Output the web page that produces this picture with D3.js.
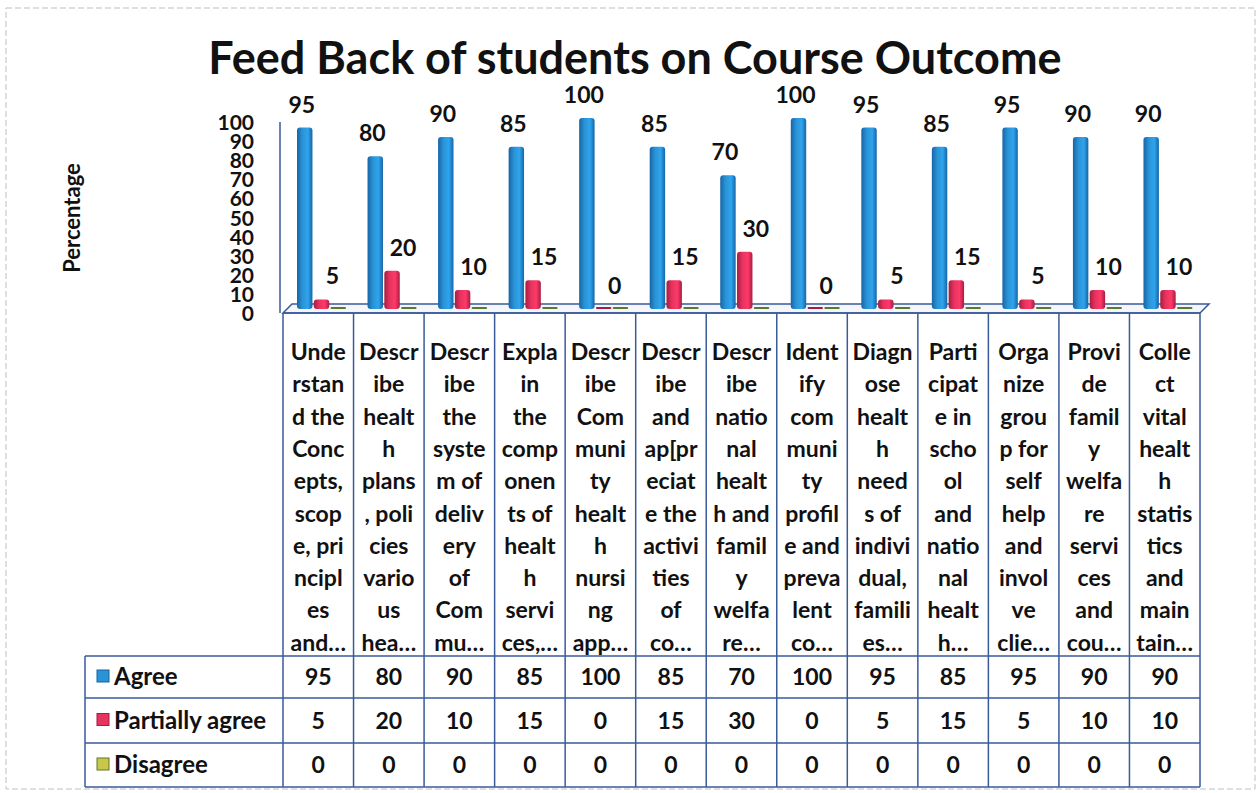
<!DOCTYPE html>
<html>
<head>
<meta charset="utf-8">
<script src="https://cdn.jsdelivr.net/npm/d3@7"></script>
<style>
	body { margin: 0; background: #fff; }
	svg { font-family: Lato, "Open Sans", sans-serif; font-weight: bold; }
</style>
</head>
<body>
<div id="chart"></div>
<script>
// category labels, already wrapped the way the data table shows them
const categoryLines = [
	["Unde", "rstan", "d the", "Conc", "epts,", "scop", "e, pri", "ncipl", "es", "and…"],
	["Descr", "ibe", "healt", "h", "plans", ", poli", "cies", "vario", "us", "hea…"],
	["Descr", "ibe", "the", "syste", "m of", "deliv", "ery", "of", "Com", "mu…"],
	["Expla", "in", "the", "comp", "onen", "ts of", "healt", "h", "servi", "ces,…"],
	["Descr", "ibe", "Com", "muni", "ty", "healt", "h", "nursi", "ng", "app…"],
	["Descr", "ibe", "and", "ap[pr", "eciat", "e the", "activi", "ties", "of", "co…"],
	["Descr", "ibe", "natio", "nal", "healt", "h and", "famil", "y", "welfa", "re…"],
	["Ident", "ify", "com", "muni", "ty", "profil", "e and", "preva", "lent", "co…"],
	["Diagn", "ose", "healt", "h", "need", "s of", "indivi", "dual,", "famili", "es…"],
	["Parti", "cipat", "e in", "scho", "ol", "and", "natio", "nal", "healt", "h…"],
	["Orga", "nize", "grou", "p for", "self", "help", "and", "invol", "ve", "clie…"],
	["Provi", "de", "famil", "y", "welfa", "re", "servi", "ces", "and", "cou…"],
	["Colle", "ct", "vital", "healt", "h", "statis", "tics", "and", "main", "tain…"]
];

const seriesNames = ["Agree", "Partially agree", "Disagree"];
const agree = [95, 80, 90, 85, 100, 85, 70, 100, 95, 85, 95, 90, 90];
const partiallyAgree = [5, 20, 10, 15, 0, 15, 30, 0, 5, 15, 5, 10, 10];
const disagree = [0, 0, 0, 0, 0, 0, 0, 0, 0, 0, 0, 0, 0];
const yTicks = [0, 10, 20, 30, 40, 50, 60, 70, 80, 90, 100];

const seriesValues = [agree, partiallyAgree, disagree];
const colors = ["#2a93d5", "#e6335f", "#c9c64a"];
const darkColors = ["#1665a8", "#a81d3f", "#5b7a2a"];

const width = 1260, height = 793;
const plotLeft = 283, plotRight = 1200;
const floorY = 313, depth = 4;
const tableTop = 313, headerBottom = 656;
const rowBottoms = [698, 743, 787];
const legendLeft = 85;
const fs = 23;

const svg = d3.select("#chart")
	.append("svg")
	.attr("width", width)
	.attr("height", height);

const defs = svg.append("defs");
colors.forEach((c, i) => {
	const grad = defs.append("linearGradient")
		.attr("id", "bar" + i)
		.attr("x1", 0).attr("x2", 1).attr("y1", 0).attr("y2", 0);
	grad.append("stop").attr("offset", "0%").attr("stop-color", darkColors[i]);
	grad.append("stop").attr("offset", "35%").attr("stop-color", c);
	grad.append("stop").attr("offset", "70%").attr("stop-color", d3.color(c).brighter(0.3));
	grad.append("stop").attr("offset", "100%").attr("stop-color", darkColors[i]);
});

// scanned page frame
svg.append("rect")
	.attr("x", 6).attr("y", 8)
	.attr("width", 1249).attr("height", 781)
	.attr("fill", "#fff")
	.attr("stroke", "#b9bfc8")
	.attr("stroke-dasharray", "6,3");

svg.append("text")
	.attr("x", 635)
	.attr("y", 74)
	.attr("text-anchor", "middle")
	.attr("font-size", 45)
	.attr("fill", "#111")
	.text("Feed Back of students on Course Outcome");

svg.append("text")
	.attr("transform", "translate(80,218) rotate(-90)")
	.attr("text-anchor", "middle")
	.attr("font-size", 22)
	.attr("fill", "#111")
	.text("Percentage");

const y = d3.scaleLinear().domain([0, 100]).range([floorY, 122]);
const x = d3.scaleBand().domain(d3.range(categoryLines.length)).range([plotLeft, plotRight]);
const xs = d3.scaleBand().domain(d3.range(seriesNames.length)).range([14, 63]).paddingInner(0.08);

// y axis: only labels and the line, no tick marks
const yAxis = d3.axisLeft(y).tickValues(yTicks).tickSize(0).tickPadding(0);
const yg = svg.append("g")
	.attr("transform", "translate(254,0)")
	.call(yAxis);
yg.select(".domain").remove();
yg.selectAll("text")
	.attr("font-size", 21)
	.attr("font-family", "Lato, sans-serif")
	.attr("font-weight", "bold")
	.attr("fill", "#111")
	.attr("dy", "0.36em");

svg.append("line")
	.attr("x1", 280).attr("x2", 280)
	.attr("y1", 122).attr("y2", floorY)
	.attr("stroke", "#3a5a9a").attr("stroke-width", 1.5);

// 3D floor
svg.append("path")
	.attr("d", "M" + plotLeft + "," + floorY
		+ "L" + (plotLeft + 9) + "," + (floorY - 9)
		+ "L" + (plotRight + 9) + "," + (floorY - 9)
		+ "L" + plotRight + "," + floorY + "Z")
	.attr("fill", "#f4f6fa")
	.attr("stroke", "#3a5a9a")
	.attr("stroke-width", 1.5);

const bars = svg.append("g");
seriesValues.forEach((vals, s) => {
	const g = bars.append("g");
	g.selectAll("rect")
		.data(vals)
		.join("rect")
		.attr("x", (d, i) => x(i) + xs(s))
		.attr("y", d => y(d) - depth - (d === 0 ? 2 : 0))
		.attr("width", xs.bandwidth())
		.attr("height", d => Math.max(2, y(0) - y(d)))
		.attr("rx", d => d === 0 ? 1 : 3)
		.attr("fill", d => d === 0 ? darkColors[s] : "url(#bar" + s + ")");
});

// value labels for Agree and Partially agree
const labelShift = [-3, 11];
[agree, partiallyAgree].forEach((vals, s) => {
	svg.append("g").selectAll("text")
		.data(vals)
		.join("text")
		.attr("x", (d, i) => x(i) + xs(s) + xs.bandwidth() / 2 + labelShift[s])
		.attr("y", d => y(d) - depth - 15)
		.attr("text-anchor", "middle")
		.attr("font-size", fs)
		.attr("fill", "#111")
		.text(d => d);
});

// data table
const table = svg.append("g")
	.attr("stroke", "#3a5a9a")
	.attr("stroke-width", 1.5);

x.domain().forEach(i => {
	table.append("line")
		.attr("x1", x(i)).attr("x2", x(i))
		.attr("y1", tableTop).attr("y2", rowBottoms[2]);
});
table.append("line")
	.attr("x1", plotRight).attr("x2", plotRight)
	.attr("y1", tableTop).attr("y2", rowBottoms[2]);
table.append("line")
	.attr("x1", legendLeft).attr("x2", legendLeft)
	.attr("y1", headerBottom).attr("y2", rowBottoms[2]);
table.append("line")
	.attr("x1", plotLeft).attr("x2", plotRight)
	.attr("y1", tableTop).attr("y2", tableTop);
[headerBottom].concat(rowBottoms).forEach(yy => {
	table.append("line")
		.attr("x1", legendLeft).attr("x2", plotRight)
		.attr("y1", yy).attr("y2", yy);
});

const header = svg.append("g")
	.attr("font-size", fs)
	.attr("fill", "#111")
	.attr("text-anchor", "middle");

categoryLines.forEach((lines, i) => {
	header.append("g").selectAll("text")
		.data(lines)
		.join("text")
		.attr("x", x(i) + x.bandwidth() / 2)
		.attr("y", (d, k) => 360 + k * 32.3)
		.text(d => d);
});

const rowTops = [headerBottom].concat(rowBottoms);
seriesValues.forEach((vals, s) => {
	const mid = (rowTops[s] + rowTops[s + 1]) / 2;
	svg.append("rect")
		.attr("x", 97).attr("y", mid - 7)
		.attr("width", 12).attr("height", 12)
		.attr("fill", colors[s])
		.attr("stroke", darkColors[s])
		.attr("stroke-width", 1);
	svg.append("text")
		.attr("x", 114)
		.attr("y", mid + 8)
		.attr("font-size", 24)
		.attr("fill", "#111")
		.text(seriesNames[s]);
	svg.append("g").selectAll("text")
		.data(vals)
		.join("text")
		.attr("x", (d, i) => x(i) + x.bandwidth() / 2)
		.attr("y", mid + 8)
		.attr("text-anchor", "middle")
		.attr("font-size", fs)
		.attr("fill", "#111")
		.text(d => d);
});
</script>
</body>
</html>
